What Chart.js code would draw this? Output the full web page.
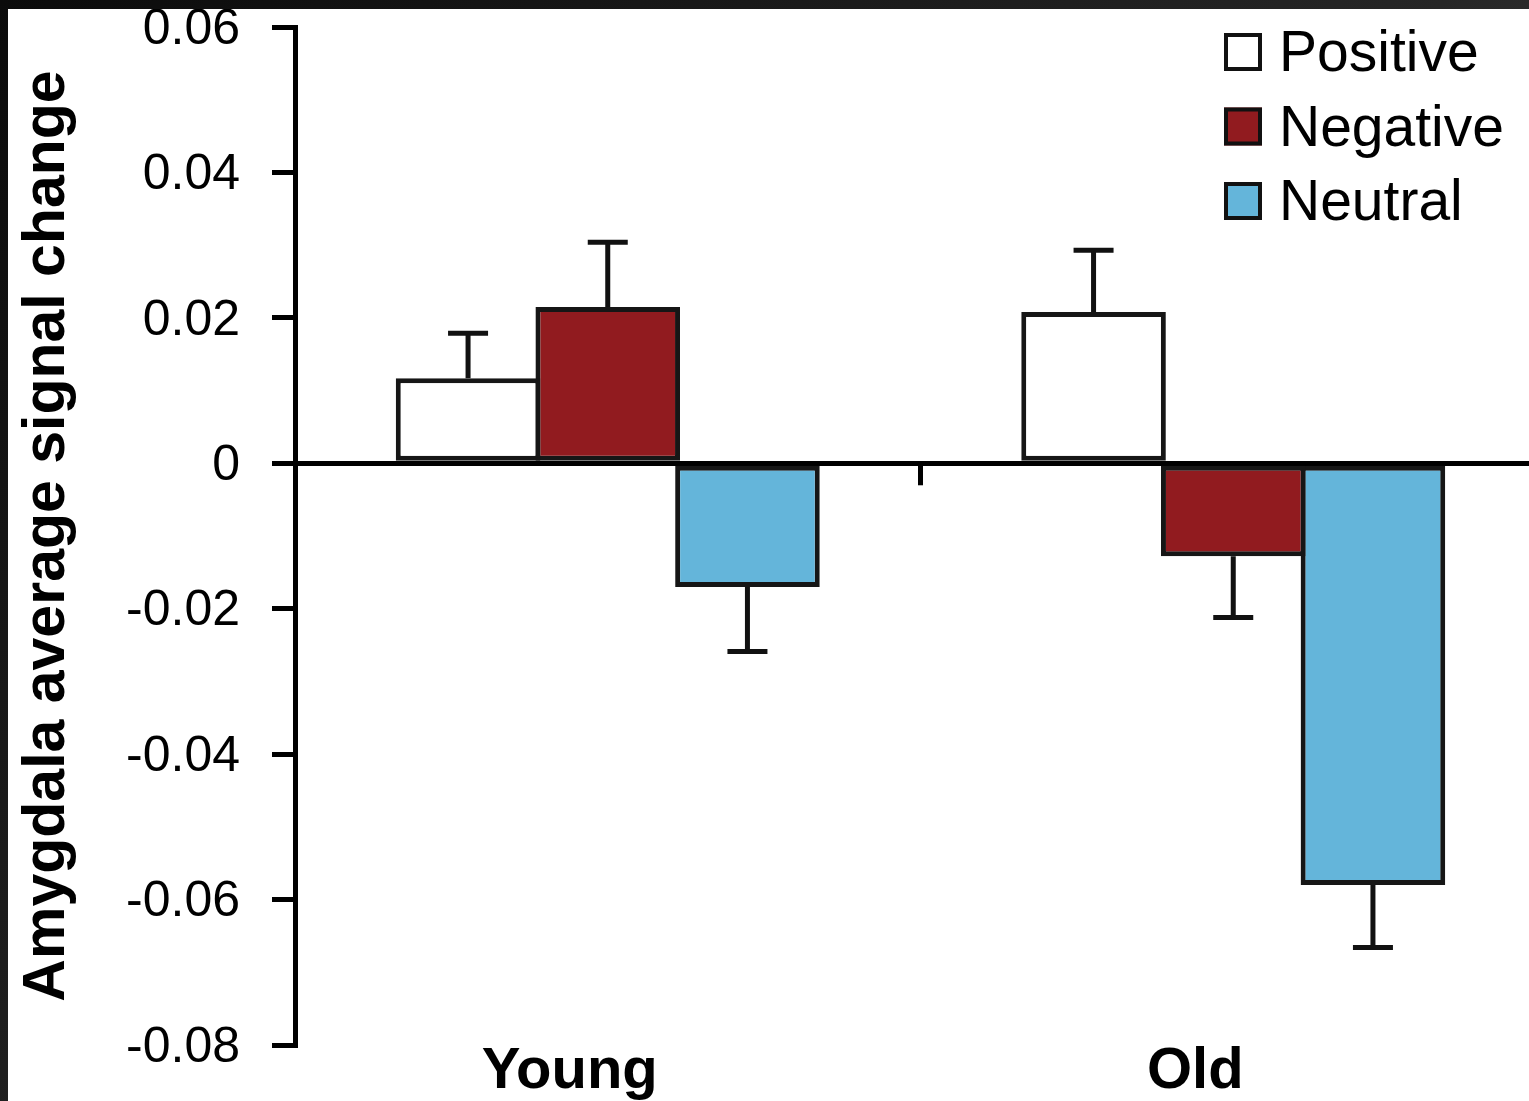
<!DOCTYPE html>
<html>
<head>
<meta charset="utf-8">
<script src="https://cdn.jsdelivr.net/npm/chart.js@4/dist/chart.umd.min.js"></script>
<style>
  html, body { margin: 0; padding: 0; width: 1529px; height: 1101px; overflow: hidden; }
  body { position: relative; background: linear-gradient(135deg, #0b0b0b 0%, #262626 55%, #5e5e5e 100%); }
  #wrap { position: absolute; left: 8px; top: 9px; width: 1538px; height: 1092px; background: #fff; }
</style>
</head>
<body>
<div id="wrap"><canvas id="chart"></canvas></div>
<script>
// values
const groups = ['Young', 'Old'];
const seriesNames = ['Positive', 'Negative', 'Neutral'];
const positive = [0.0117, 0.0208];
const negative = [0.0215, -0.0128];
const neutral = [-0.0170, -0.0580];
const positiveErr = [0.0062, 0.0085];
const negativeErr = [0.0089, 0.0084];
const neutralErr = [0.0089, 0.0086];
const yTicks = [0.06, 0.04, 0.02, 0, -0.02, -0.04, -0.06, -0.08];
const colors = ['#ffffff', '#911b1f', '#64b5da'];

Chart.defaults.font.family = '"Liberation Sans", Arial, Helvetica, sans-serif';
Chart.defaults.color = '#000';

// whiskers go away from zero only
const errorBars = {
  id: 'errorBars',
  afterDatasetsDraw(chart, args, opts) {
    const ctx = chart.ctx, y = chart.scales.y;
    ctx.save();
    ctx.strokeStyle = opts.color;
    ctx.lineWidth = opts.width;
    chart.data.datasets.forEach((ds, i) => {
      chart.getDatasetMeta(i).data.forEach((bar, j) => {
        const v = ds.data[j], e = ds.errors[j];
        const end = y.getPixelForValue(v >= 0 ? v + e : v - e);
        ctx.beginPath();
        ctx.moveTo(bar.x, bar.y);
        ctx.lineTo(bar.x, end);
        ctx.moveTo(bar.x - opts.cap, end);
        ctx.lineTo(bar.x + opts.cap, end);
        ctx.stroke();
      });
    });
    ctx.restore();
  }
};

// small tick below the zero line between the two groups
const midTick = {
  id: 'midTick',
  afterDatasetsDraw(chart, args, opts) {
    const ctx = chart.ctx, x = chart.scales.x, y = chart.scales.y;
    const mx = (x.getPixelForValue(0) + x.getPixelForValue(1)) / 2;
    const zy = y.getPixelForValue(0);
    ctx.save();
    ctx.strokeStyle = '#000';
    ctx.lineWidth = opts.width;
    ctx.beginPath();
    ctx.moveTo(mx, zy);
    ctx.lineTo(mx, zy + opts.length);
    ctx.stroke();
    ctx.restore();
  }
};

// stacked legend in the top right corner
const boxLegend = {
  id: 'boxLegend',
  afterDraw(chart, args, opts) {
    const ctx = chart.ctx;
    ctx.save();
    ctx.font = opts.font;
    ctx.textBaseline = 'alphabetic';
    ctx.textAlign = 'left';
    chart.data.datasets.forEach((ds, i) => {
      const top = opts.y + i * opts.step;
      ctx.fillStyle = ds.backgroundColor;
      ctx.fillRect(opts.x, top, opts.box, opts.box);
      ctx.lineWidth = opts.border;
      ctx.strokeStyle = '#111';
      ctx.strokeRect(opts.x + opts.border / 2, top + opts.border / 2, opts.box - opts.border, opts.box - opts.border);
      ctx.fillStyle = '#000';
      ctx.fillText(ds.label, opts.x + opts.box + opts.gap, top + opts.box);
    });
    ctx.restore();
  }
};

const values = [positive, negative, neutral];
const errs = [positiveErr, negativeErr, neutralErr];

new Chart(document.getElementById('chart'), {
  type: 'bar',
  data: {
    labels: groups,
    datasets: seriesNames.map((name, i) => ({
      label: name,
      data: values[i],
      errors: errs[i],
      backgroundColor: colors[i],
      borderColor: '#161616',
      borderWidth: 5,
      borderSkipped: false,
      barPercentage: 1.035,
      categoryPercentage: 0.67
    }))
  },
  options: {
    responsive: true,
    maintainAspectRatio: false,
    animation: false,
    layout: { padding: { top: 18, left: 0, right: 0, bottom: 0 } },
    plugins: {
      legend: { display: false },
      tooltip: { enabled: false },
      errorBars: { color: '#111', width: 5, cap: 20 },
      midTick: { width: 5, length: 22 },
      boxLegend: { x: 1216, y: 24, step: 74.5, box: 38, gap: 17, border: 4, font: '57px "Liberation Sans", Arial, sans-serif' }
    },
    scales: {
      x: {
        grid: { display: false, drawTicks: false },
        border: { display: false },
        ticks: {
          font: { size: 58, weight: 'bold', lineHeight: 1 },
          color: '#000',
          padding: -2,
          labelOffset: -38
        },
        afterFit: s => { s.height = 56; s.paddingLeft = 0; s.paddingRight = 0; }
      },
      y: {
        min: Math.min(...yTicks),
        max: Math.max(...yTicks),
        afterBuildTicks: s => { s.ticks = yTicks.map(v => ({ value: v })); },
        grid: {
          color: c => (c.tick && Math.abs(c.tick.value) < 1e-9) ? '#000' : 'rgba(0,0,0,0)',
          lineWidth: 5,
          tickColor: '#000',
          tickWidth: 5,
          tickLength: 23
        },
        border: { display: true, color: '#000', width: 5 },
        ticks: {
          font: { size: 50 },
          color: '#000',
          padding: 32,
          labelOffset: 3,
          callback: v => Math.abs(v) < 1e-9 ? '0' : v.toFixed(2)
        },
        title: {
          display: true,
          text: 'Amygdala average signal change',
          font: { size: 59, weight: 'bold', lineHeight: 1 },
          color: '#000',
          padding: { top: 10, bottom: 0 }
        },
        afterFit: s => { s.width = 287; s.paddingTop = 0; s.paddingBottom = 0; }
      }
    }
  },
  plugins: [errorBars, midTick, boxLegend]
});
</script>
</body>
</html>
